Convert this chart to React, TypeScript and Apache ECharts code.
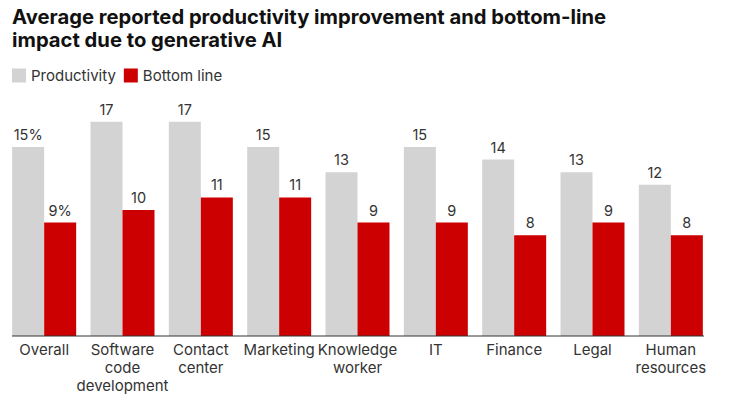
import React, { useEffect, useRef } from "react";
import * as echarts from "echarts";

const categories = [
  "Overall",
  "Software\ncode\ndevelopment",
  "Contact\ncenter",
  "Marketing",
  "Knowledge\nworker",
  "IT",
  "Finance",
  "Legal",
  "Human\nresources",
];
const productivity = [15, 17, 17, 15, 13, 15, 14, 13, 12];
const bottomLine = [9, 10, 11, 11, 9, 9, 8, 9, 8];
const seriesNames = ["Productivity", "Bottom line"];
const titleText = "Average reported productivity improvement and bottom-line\nimpact due to generative AI";

const FONT = "Inter, 'Noto Sans', sans-serif";

export default function App() {
  const ref = useRef<HTMLDivElement>(null);
  useEffect(() => {
    if (!ref.current) return;
    const chart = echarts.init(ref.current, null, { renderer: "svg" });
    const labelFmt = (p: any) => (p.dataIndex === 0 ? p.value + "%" : String(p.value));
    const valueLabel = {
      show: true,
      position: "top",
      distance: 5,
      formatter: labelFmt,
      fontFamily: FONT,
      fontSize: 14.5,
      color: "#333",
    };
    chart.setOption({
      animation: false,
      backgroundColor: "#fff",
      title: {
        text: titleText,
        left: 7,
        top: 0,
        textStyle: {
          fontFamily: FONT,
          fontSize: 20.2,
          fontWeight: "bold",
          color: "#111",
          lineHeight: 23,
        },
      },
      legend: {
        data: seriesNames,
        left: 7,
        top: 63,
        icon: "rect",
        itemWidth: 14,
        itemHeight: 14,
        itemGap: 8,
        textStyle: { fontFamily: FONT, fontSize: 15, color: "#333" },
      },
      grid: { left: 5, width: 705, top: 84, height: 252, containLabel: false },
      xAxis: {
        type: "category",
        data: categories,
        axisLine: { show: false },
        axisTick: { show: false },
        axisLabel: {
          fontFamily: FONT,
          fontSize: 15,
          color: "#333",
          lineHeight: 18,
          margin: 4,
          interval: 0,
        },
      },
      yAxis: {
        type: "value",
        min: 0,
        max: 20,
        show: false,
        splitLine: { show: false },
      },
      graphic: [
        {
          type: "line",
          shape: { x1: 12, y1: 336, x2: 704, y2: 336 },
          style: { stroke: "#333", lineWidth: 1 },
          z: 100,
        },
      ],
      series: [
        {
          name: seriesNames[0],
          type: "bar",
          data: productivity,
          barWidth: 32,
          barGap: "0%",
          itemStyle: { color: "#d3d3d3" },
          label: valueLabel,
        },
        {
          name: seriesNames[1],
          type: "bar",
          data: bottomLine,
          barWidth: 32,
          barGap: "0%",
          itemStyle: { color: "#cc0000" },
          label: valueLabel,
        },
      ],
    });
    return () => chart.dispose();
  }, []);
  return (
    <div
      ref={ref}
      style={{ position: "absolute", left: 0, top: 0, width: 740, height: 398 }}
    />
  );
}
